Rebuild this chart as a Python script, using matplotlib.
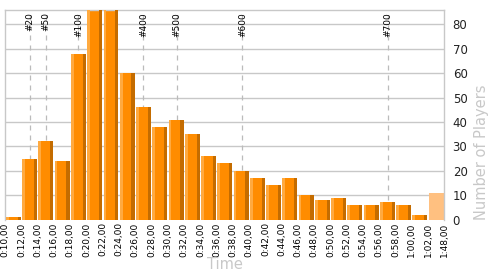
import matplotlib
matplotlib.use("Agg")
import matplotlib.pyplot as plt
import numpy as np

# ---- data ----
bin_edges = ["0:10,00", "0:12,00", "0:14,00", "0:16,00", "0:18,00", "0:20,00",
             "0:22,00", "0:24,00", "0:26,00", "0:28,00", "0:30,00", "0:32,00",
             "0:34,00", "0:36,00", "0:38,00", "0:40,00", "0:42,00", "0:44,00",
             "0:46,00", "0:48,00", "0:50,00", "0:52,00", "0:54,00", "0:56,00",
             "0:58,00", "1:00,00", "1:02,00", "1:48,00"]
players = [1, 25, 32, 24, 68, 92, 90, 60, 46, 38, 41, 35, 26, 23, 20, 17, 14,
           17, 10, 8, 9, 6, 6, 7, 6, 2, 11]
rank_labels = ["#20", "#50", "#100", "#400", "#500", "#600", "#700"]
rank_times = [13.04, 14.96, 18.98, 26.98, 31.08, 39.16, 57.04]  # minutes

# ---- figure ----
fig = plt.figure(figsize=(5, 2.75), dpi=100)
ax = fig.add_axes([0.0106, 0.2018, 0.878, 0.7618])

n = len(players)
x = np.arange(n)
grey = "#C8C8C8"

for yv in range(10, 90, 10):
    ax.axhline(yv, color=grey, lw=1, zorder=0)

# rank markers
for lab, t in zip(rank_labels, rank_times):
    pos = (t - 10) / 2.0
    ax.axvline(pos, color="#BBBBBB", lw=0.9, ls=(0, (4, 4)), zorder=1)
    ax.text(pos, 85.0, lab, rotation=90, ha="center", va="top",
            fontsize=6.5, color="black", zorder=4)

main_c = "#FF8C00"
hi_c = "#FFAA40"
sh_c = "#C46C00"
light_c = "#FFC080"

w = 0.92
left = x + (1 - w) / 2
vals = np.array(players, dtype=float)
normal = np.arange(n) < n - 1
ax.bar(left[normal], vals[normal], width=w, align="edge", color=main_c, lw=0, zorder=2)
ax.bar(left[normal], vals[normal], width=0.17, align="edge", color=hi_c, lw=0, zorder=3)
ax.bar(left[normal] + w - 0.2, vals[normal], width=0.2, align="edge", color=sh_c, lw=0, zorder=3)
ax.bar(left[~normal], vals[~normal], width=w, align="edge", color=light_c, lw=0, zorder=2)

ax.set_xlim(0, n)
ax.set_ylim(0, 85.9)

ax.set_xticks(np.arange(n + 1))
ax.set_xticklabels(bin_edges, rotation=90, fontsize=6.5, color="black")
ax.tick_params(axis="x", length=0, pad=2)

ax.yaxis.tick_right()
ax.yaxis.set_label_position("right")
ax.set_yticks(range(0, 90, 10))
ax.tick_params(axis="y", length=0, pad=6, labelsize=8.5, labelcolor="#222222")

ax.set_xlabel("Time", color=grey, fontsize=10.5, labelpad=0)
ax.set_ylabel("Number of Players", color=grey, fontsize=10.5, labelpad=5, loc="bottom")

for s in ["left", "top", "right"]:
    ax.spines[s].set_color(grey)
    ax.spines[s].set_linewidth(1)
ax.spines["bottom"].set_visible(False)

fig.savefig("out.png", dpi=100)
